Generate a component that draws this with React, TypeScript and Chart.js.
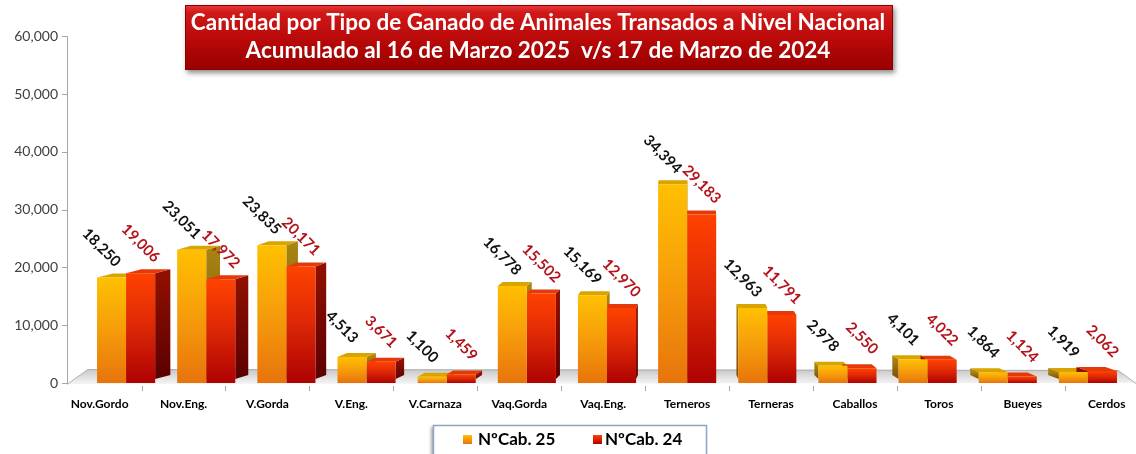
import React, { useEffect, useRef } from "react";
import { Chart, registerables } from "chart.js";

Chart.register(...registerables);

const categories = ["Nov.Gordo", "Nov.Eng.", "V.Gorda", "V.Eng.", "V.Carnaza", "Vaq.Gorda", "Vaq.Eng.", "Terneros", "Terneras", "Caballos", "Toros", "Bueyes", "Cerdos"];
const cab25 = [18250, 23051, 23835, 4513, 1100, 16778, 15169, 34394, 12963, 2978, 4101, 1864, 1919];
const cab24 = [19006, 17972, 20171, 3671, 1459, 15502, 12970, 29183, 11791, 2550, 4022, 1124, 2062];
const seriesNames = ["NºCab. 25", "NºCab. 24"];
const yMin = 0;
const yMax = 60000;
const yStep = 10000;
const titleLines = [
  "Cantidad por Tipo de Ganado de Animales Transados a Nivel Nacional",
  "Acumulado al 16 de Marzo 2025  v/s 17 de Marzo de 2024",
];

const FONT = "Lato, 'Open Sans', sans-serif";
const VP_X = 688;
const PERSP = 0.955;
const front = (x: number) => VP_X + (x - VP_X) / PERSP;
const fmt = (v: number) => v.toLocaleString("en-US");

const palettes = [
  { front: ["#FFC000", "#F7A00A", "#E8740C"], side: ["#A88412", "#7E4A06"], top: "#D9A400", label: "#111111", legend: "#F39A10" },
  { front: ["#FF4200", "#E02A06", "#AE0202"], side: ["#901000", "#5C0000"], top: "#E43A0A", label: "#B5121B", legend: "#D42208" },
];

function barGradient(idx: number) {
  return (c: any) => {
    const chart = c.chart;
    const y = chart.scales && chart.scales.y;
    const p = palettes[idx];
    if (!y || c.type !== "data") return p.front[1];
    const top = y.getPixelForValue(c.raw);
    const bot = y.getPixelForValue(0);
    if (!isFinite(top) || !isFinite(bot) || top === bot) return p.front[1];
    const g = chart.ctx.createLinearGradient(0, top, 0, bot);
    g.addColorStop(0, p.front[0]);
    g.addColorStop(0.45, p.front[1]);
    g.addColorStop(1, p.front[2]);
    return g;
  };
}

const scenePlugin = {
  id: "scene3d",
  beforeDraw(chart: any) {
    const ctx = chart.ctx;
    ctx.save();
    ctx.fillStyle = "#ffffff";
    ctx.fillRect(0, 0, chart.width, chart.height);
    ctx.restore();
  },
  beforeDatasetsDraw(chart: any) {
    const ctx = chart.ctx;
    const base = chart.scales.y.getPixelForValue(0);
    // floor
    ctx.save();
    const fg = ctx.createLinearGradient(0, base - 15, 0, base);
    fg.addColorStop(0, "#c4c4c4");
    fg.addColorStop(1, "#f2f2f2");
    ctx.fillStyle = fg;
    ctx.beginPath();
    ctx.moveTo(67, base + 1);
    ctx.lineTo(88, base - 14);
    ctx.lineTo(1118, base - 13);
    ctx.lineTo(1136, base);
    ctx.closePath();
    ctx.fill();
    ctx.strokeStyle = "#b0b0b0";
    ctx.lineWidth = 1;
    ctx.beginPath();
    ctx.moveTo(67, base + 1.5);
    ctx.lineTo(88, base - 13.5);
    ctx.lineTo(1118, base - 12.5);
    ctx.lineTo(1136, base + 0.5);
    ctx.stroke();
    ctx.restore();

    // depth faces
    const dy = 4;
    chart.data.datasets.forEach((ds: any, di: number) => {
      const meta = chart.getDatasetMeta(di);
      const p = palettes[di];
      meta.data.forEach((bar: any) => {
        const w = bar.width;
        const xl = bar.x - w / 2;
        const xr = bar.x + w / 2;
        const yt = bar.y;
        const yb = bar.base - 4;
        const dx = (VP_X - bar.x) / 36;
        ctx.save();
        const sg = ctx.createLinearGradient(0, yt, 0, yb);
        sg.addColorStop(0, p.side[0]);
        sg.addColorStop(1, p.side[1]);
        ctx.fillStyle = sg;
        const xe = dx >= 0 ? xr : xl;
        ctx.beginPath();
        ctx.moveTo(xe, yt);
        ctx.lineTo(xe + dx, yt - dy);
        ctx.lineTo(xe + dx, yb - dy);
        ctx.lineTo(xe, yb);
        ctx.closePath();
        ctx.fill();
        ctx.fillStyle = p.top;
        ctx.beginPath();
        ctx.moveTo(xl, yt);
        ctx.lineTo(xl + dx, yt - dy);
        ctx.lineTo(xr + dx, yt - dy);
        ctx.lineTo(xr, yt);
        ctx.closePath();
        ctx.fill();
        ctx.restore();
      });
    });
  },
  afterDatasetsDraw(chart: any) {
    const ctx = chart.ctx;
    const offs = [[-10, -30], [0, -30]];
    chart.data.datasets.forEach((ds: any, di: number) => {
      const meta = chart.getDatasetMeta(di);
      meta.data.forEach((bar: any, i: number) => {
        ctx.save();
        ctx.translate(bar.x + offs[di][0], bar.y + offs[di][1]);
        ctx.rotate(Math.PI / 4);
        ctx.font = `bold 15px ${FONT}`;
        ctx.fillStyle = palettes[di].label;
        ctx.textAlign = "center";
        ctx.textBaseline = "middle";
        ctx.fillText(fmt(ds.data[i]), 0, 0);
        ctx.restore();
      });
    });
  },
  afterDraw(chart: any) {
    const ctx = chart.ctx;
    const ys = chart.scales.y;
    const xs = chart.scales.x;
    const base = ys.getPixelForValue(0);
    ctx.save();
    // y axis line and ticks
    ctx.strokeStyle = "#a6a6a6";
    ctx.lineWidth = 1;
    ctx.beginPath();
    ctx.moveTo(67.5, ys.getPixelForValue(yMax));
    ctx.lineTo(67.5, base + 1);
    for (let v = yMin; v <= yMax; v += yStep) {
      const py = Math.round(ys.getPixelForValue(v)) + 0.5;
      ctx.moveTo(62, py);
      ctx.lineTo(67.5, py);
    }
    ctx.stroke();
    // x tick marks
    ctx.beginPath();
    const n = categories.length;
    const step = xs.getPixelForValue(1) - xs.getPixelForValue(0);
    for (let i = 0; i <= n; i++) {
      const xb = xs.getPixelForValue(0) + (i - 0.5) * step;
      const xf = Math.round(front(xb)) + 0.5;
      if (xf < 68 || xf > 1134) continue;
      ctx.moveTo(xf, base + 3);
      ctx.lineTo(xf, base + 8);
    }
    ctx.stroke();
    // category labels
    ctx.fillStyle = "#000000";
    ctx.font = `bold 12px ${FONT}`;
    ctx.textAlign = "center";
    ctx.textBaseline = "middle";
    categories.forEach((c, i) => {
      ctx.fillText(c, front(xs.getPixelForValue(i)), base + 21);
    });

    // title box
    const bx = 185, by = 5, bw = 708, bh = 65;
    ctx.save();
    ctx.shadowColor = "rgba(0,0,0,0.45)";
    ctx.shadowBlur = 5;
    ctx.shadowOffsetX = 2;
    ctx.shadowOffsetY = 3;
    const tg = ctx.createLinearGradient(0, by, 0, by + bh);
    tg.addColorStop(0, "#E83A3A");
    tg.addColorStop(0.12, "#D01818");
    tg.addColorStop(0.55, "#B80808");
    tg.addColorStop(1, "#980000");
    ctx.fillStyle = tg;
    ctx.fillRect(bx, by, bw, bh);
    ctx.restore();
    ctx.strokeStyle = "#8a0000";
    ctx.strokeRect(bx + 0.5, by + 0.5, bw - 1, bh - 1);
    ctx.fillStyle = "#ffffff";
    ctx.font = `bold 22.5px ${FONT}`;
    ctx.textAlign = "center";
    ctx.textBaseline = "middle";
    ctx.fillText(titleLines[0], bx + bw / 2 - 1, 23);
    ctx.fillText(titleLines[1], bx + bw / 2 - 1, 51);

    // legend
    const lx = 433, ly = 425, lw = 274, lh = 40;
    ctx.save();
    ctx.shadowColor = "rgba(0,0,0,0.35)";
    ctx.shadowBlur = 3;
    ctx.shadowOffsetX = -2;
    ctx.shadowOffsetY = 2;
    ctx.fillStyle = "#ffffff";
    ctx.fillRect(lx, ly, lw, lh);
    ctx.restore();
    ctx.strokeStyle = "#8da6c2";
    ctx.lineWidth = 1.5;
    ctx.strokeRect(lx + 0.5, ly + 0.5, lw - 1, lh - 1);
    const items = [{ sx: 463, tx: 478 }, { sx: 593, tx: 605 }];
    ctx.font = `bold 17px ${FONT}`;
    ctx.textAlign = "left";
    ctx.textBaseline = "middle";
    items.forEach((it, k) => {
      const sg = ctx.createLinearGradient(0, 435, 0, 444);
      sg.addColorStop(0, palettes[k].front[0]);
      sg.addColorStop(1, palettes[k].front[2]);
      ctx.fillStyle = sg;
      ctx.fillRect(it.sx, 435, 9, 9);
      ctx.fillStyle = "#000000";
      ctx.fillText(seriesNames[k], it.tx, 440);
    });
    ctx.restore();
  },
};

export default function App() {
  const ref = useRef<HTMLCanvasElement | null>(null);
  useEffect(() => {
    document.body.style.margin = "0";
    const canvas = ref.current;
    if (!canvas) return;
    const chart = new Chart(canvas, {
      type: "bar",
      data: {
        labels: categories,
        datasets: [
          { label: seriesNames[0], data: cab25, backgroundColor: barGradient(0), borderWidth: 0 },
          { label: seriesNames[1], data: cab24, backgroundColor: barGradient(1), borderWidth: 0 },
        ],
      },
      options: {
        responsive: false,
        animation: false,
        devicePixelRatio: 1,
        layout: { padding: { top: 32, right: 8, left: 0, bottom: 0 } },
        datasets: { bar: { categoryPercentage: 0.725, barPercentage: 1 } },
        plugins: {
          legend: { display: false },
          title: { display: false },
          tooltip: { enabled: false },
        },
        scales: {
          x: {
            type: "category",
            grid: { display: false, drawTicks: false },
            border: { display: false },
            ticks: { display: false },
            afterFit: (s: any) => { s.height = 71; },
          },
          y: {
            min: yMin,
            max: yMax,
            grid: { display: false, drawTicks: false },
            border: { display: false },
            ticks: {
              stepSize: yStep,
              padding: 28,
              color: "#404040",
              font: { family: FONT, size: 14 },
              callback: (v: any) => fmt(Number(v)),
            },
            afterFit: (s: any) => { s.width = 86; },
          },
        },
      },
      plugins: [scenePlugin],
    });
    return () => chart.destroy();
  }, []);
  return (
    <div style={{ width: 1136, height: 454, overflow: "hidden" }}>
      <canvas ref={ref} width={1136} height={454} style={{ display: "block", width: 1136, height: 454 }} />
    </div>
  );
}
